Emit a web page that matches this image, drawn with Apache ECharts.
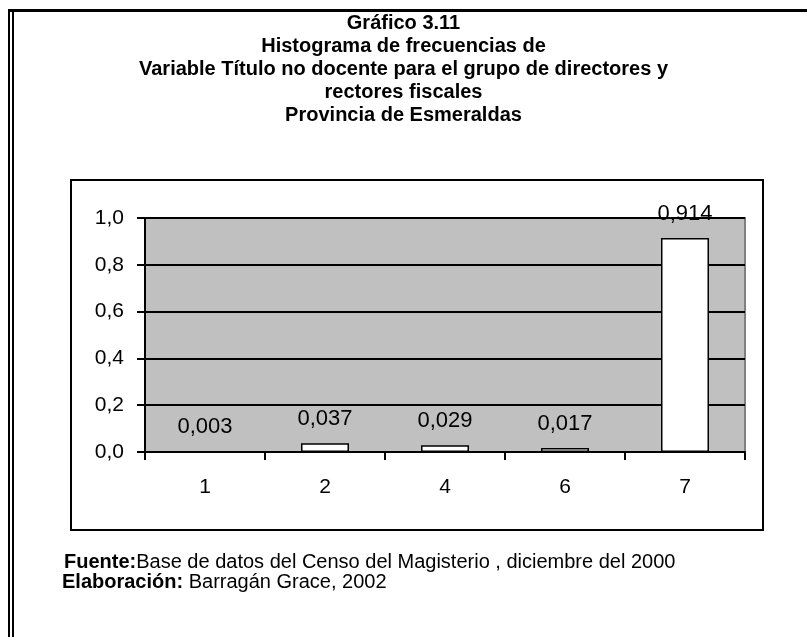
<!DOCTYPE html>
<html>
<head>
<meta charset="utf-8">
<style>
  html, body { margin: 0; padding: 0; background: #ffffff; }
  #chart { width: 807px; height: 637px; }
</style>
<script src="https://cdn.jsdelivr.net/npm/echarts@6/dist/echarts.min.js"></script>
</head>
<body>
<div id="chart"></div>
<script>
const categories = ['1', '2', '4', '6', '7'];
const frequencies = [0.003, 0.037, 0.029, 0.017, 0.914];
const titleLines = [
  'Gráfico 3.11',
  'Histograma de frecuencias de',
  'Variable Título no docente para el grupo de directores y',
  'rectores fiscales',
  'Provincia de Esmeraldas'
];
const sourceLabel = 'Fuente:';
const sourceText = 'Base de datos del Censo del Magisterio , diciembre del 2000';
const authorLabel = 'Elaboración:';
const authorText = 'Barragán Grace, 2002';

const FONT = '"Liberation Sans", Arial, sans-serif';
const fmt = (v, d) => v.toFixed(d).replace('.', ',');

const chart = echarts.init(document.getElementById('chart'), null, { renderer: 'canvas' });
chart.setOption({
  backgroundColor: '#ffffff',
  animation: false,
  title: {
    text: titleLines.join('\n'),
    left: 'center',
    top: 12,
    padding: 0,
    textStyle: { fontFamily: FONT, fontSize: 20, fontWeight: 'bold', color: '#000', lineHeight: 23 }
  },
  grid: {
    left: 145, right: 62, top: 218, bottom: 185,
    show: true, backgroundColor: '#c0c0c0', borderColor: '#808080', borderWidth: 2
  },
  xAxis: {
    type: 'category',
    data: categories,
    axisLine: { lineStyle: { color: '#000', width: 2 } },
    axisTick: { show: true, length: 8, lineStyle: { color: '#000', width: 2 } },
    axisLabel: { color: '#000', fontFamily: FONT, fontSize: 21, margin: 25 },
    splitLine: { show: false }
  },
  yAxis: {
    type: 'value',
    min: 0, max: 1, interval: 0.2,
    axisLine: { show: true, lineStyle: { color: '#000', width: 2 } },
    axisTick: { show: true, length: 8, lineStyle: { color: '#000', width: 2 } },
    axisLabel: { color: '#000', fontFamily: FONT, fontSize: 21, margin: 21, formatter: v => fmt(v, 1) },
    splitLine: { show: true, lineStyle: { color: '#000', width: 2 } }
  },
  series: [{
    type: 'bar',
    data: frequencies,
    barWidth: '40%',
    itemStyle: { color: '#ffffff', borderColor: '#000', borderWidth: 1.5 },
    label: {
      show: true, position: 'top', distance: 13,
      color: '#000', fontFamily: FONT, fontSize: 22,
      formatter: p => fmt(p.value, 3)
    }
  }],
  graphic: [
    { type: 'rect', shape: { x: 71, y: 180, width: 692, height: 350 }, style: { fill: 'none', stroke: '#000', lineWidth: 2 }, z: -1, silent: true },
    { type: 'line', shape: { x1: 8, y1: 10.5, x2: 807, y2: 10.5 }, style: { stroke: '#000', lineWidth: 3 } },
    { type: 'line', shape: { x1: 9, y1: 9, x2: 9, y2: 637 }, style: { stroke: '#000', lineWidth: 2 } },
    { type: 'line', shape: { x1: 13, y1: 12, x2: 13, y2: 637 }, style: { stroke: '#000', lineWidth: 2 } },
    {
      type: 'text', left: 64, top: 552,
      style: {
        text: '{b|' + sourceLabel + '}' + sourceText,
        fontFamily: FONT, fontSize: 20, fill: '#000',
        rich: { b: { fontFamily: FONT, fontSize: 20, fontWeight: 'bold' } }
      }
    },
    {
      type: 'text', left: 62, top: 572,
      style: {
        text: '{b|' + authorLabel + '} ' + authorText,
        fontFamily: FONT, fontSize: 20, fill: '#000',
        rich: { b: { fontFamily: FONT, fontSize: 20, fontWeight: 'bold' } }
      }
    }
  ]
});
</script>
</body>
</html>
